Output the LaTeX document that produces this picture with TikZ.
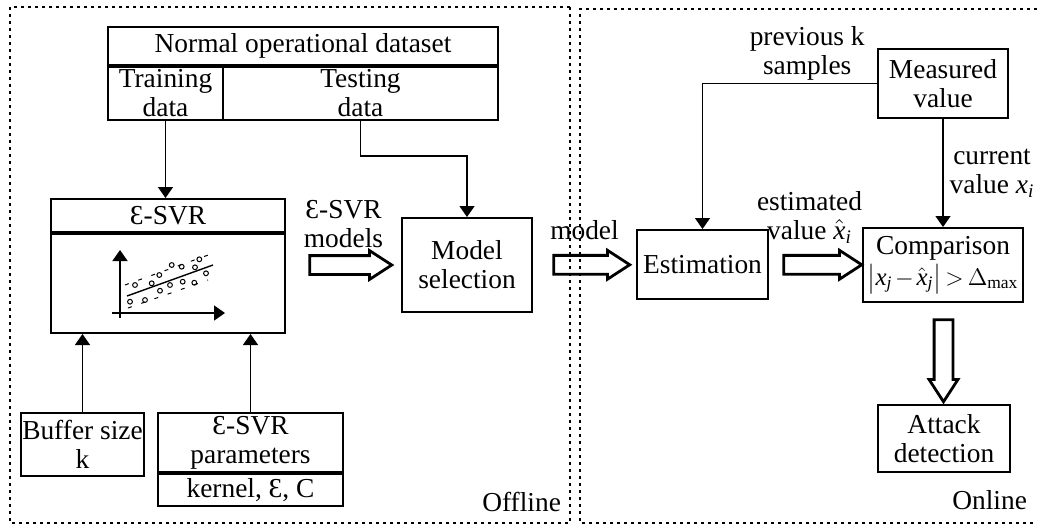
\documentclass[tikz,border=0pt]{standalone}
\usepackage{amsmath}
\usepackage{fontspec}
\setmainfont{Liberation Serif}
\usetikzlibrary{arrows.meta,positioning,calc,shapes.arrows}
\newcommand{\xv}{\textit{x}}
\newcommand{\sub}[1]{_{\textit{#1}}}

\begin{document}
\begin{tikzpicture}[x=0.5pt, y=-0.5pt, >={Triangle[length=5.5pt,width=7.5pt]},
    every node/.style={font=\fontsize{13.7}{14.5}\selectfont},
    box/.style={draw, line width=1pt, inner sep=0pt, align=center},
    link/.style={->, line width=0.7pt},
    hollow/.style={draw, single arrow, line width=1.4pt, inner sep=4pt, minimum width=13pt,
        single arrow head extend=2.5pt, single arrow tip angle=66, minimum height=41pt},
    lbl/.style={align=center, inner sep=1pt},
    frame/.style={line width=0.9pt, dash pattern=on 1.5pt off 2pt}]
    \useasboundingbox (0,0) rectangle (1037,526);

    % offline / online frames
    \draw[frame] (570,7) -- (10,7) -- (10,523) -- (570,523) -- cycle;
    \draw[frame] (1037,9) -- (580,9) -- (580,523) -- (1037,523);
    \node[anchor=east] (offl) at (568,502) {Offline};
    \node[anchor=east] (onl) at (1034,500) {Online};

    % dataset table
    \node[box, minimum width=195pt, minimum height=19pt] (dset) at (303,46) {Normal operational dataset};
    \node[box, minimum width=57.5pt, minimum height=26.5pt, anchor=north west] (train) at (dset.south west) {Training\\data};
    \node[box, minimum width=137.5pt, minimum height=26.5pt, anchor=north east] (test) at (dset.south east) {Testing\\data};

    % e-SVR block
    \node[box, minimum width=117pt, minimum height=16.5pt] (svrt) at (168,215.5) {Ɛ-SVR};
    \node[box, minimum width=117pt, minimum height=49.5pt, anchor=north] (svr) at (svrt.south) {};
    \draw[->, line width=0.8pt] (120,318) -- (120,250);
    \draw[->, line width=0.8pt] (112,313) -- (225,313);
    \draw[line width=0.7pt] (127,296) -- (213,265);
    \draw[line width=0.5pt, dash pattern=on 2pt off 5pt] (125,285) -- (211,254);
    \draw[line width=0.5pt, dash pattern=on 2pt off 5pt] (128,308) -- (208,280);
    \foreach \p in {(135,285),(151.7,283.3),(159.3,275),(171.7,265),(181.7,266.7),(195,267.3),(199.3,259.3),
        (206,273.3),(130,301.7),(145,300),(160,290.7),(170,285),(182.7,281.7),(194.3,282.7)}
        \draw[line width=0.5pt] \p circle (1.2pt);

    \node[box, minimum width=65pt, minimum height=47pt] (msel) at (467,265) {Model\\selection};
    \node[box, minimum width=61.5pt, minimum height=31.5pt] (buf) at (82.5,444.5) {Buffer size\\k};
    \node[box, minimum width=92.5pt, minimum height=29.5pt] (par) at (250.5,442.5) {Ɛ-SVR\\parameters};
    \node[box, minimum width=92.5pt, minimum height=16pt, anchor=north] (kern) at (par.south) {kernel, Ɛ, C};

    % online part
    \node[box, minimum width=65pt, minimum height=34.5pt] (meas) at (943,83.5) {Measured\\value};
    \node[box, minimum width=65.5pt, minimum height=34.5pt] (est) at (702.5,264.5) {Estimation};
    \node[box, minimum width=80pt, minimum height=37pt] (comp) at (943,265)
        {Comparison\\[1pt]{\fontsize{12.5}{14}\selectfont\medmuskip=2mu\thickmuskip=3mu
        $\left|\xv\sub{j}-\hat{\xv}\sub{j}\right|>\Delta_{\mathrm{max}}$}};
    \node[box, minimum width=66pt, minimum height=33.5pt] (att) at (944,438.5) {Attack\\detection};

    % connectors
    \draw[link] (train.south) -- (train.south |- svrt.north);
    \draw[link] (test.south) -- ++(0,35) -| (msel.north);
    \draw[link] (buf.north) -- (buf.north |- svr.south);
    \draw[link] (par.north) -- (par.north |- svr.south);
    \draw[link] (meas.west) -| (est.north) node[pos=0.2, above=0pt, lbl] {previous k\\samples};
    \draw[link] (meas.south) -- (comp.north) node[midway, right=2pt, lbl] {current\\value $\xv\sub{i}$};

    % hollow arrows
    \node[hollow] (a1) at ($(svr.east |- msel)!0.5!(msel.west)$) {};
    \node[lbl, above=2pt of a1] (a1l) {Ɛ-SVR\\models};
    \node[hollow, minimum height=38pt] (a2) at ($(msel.east)!0.5!(est.west)$) {};
    \node[lbl, above=6pt of a2] (a2l) {model};
    \node[hollow, minimum height=39pt] (a3) at ($(est.east)!0.5!(comp.west)$) {};
    \node[lbl, above=4pt of a3, xshift=-3pt] (a3l) {estimated\\value $\hat{\xv}\sub{i}$};
    \node[hollow, shape border rotate=270] (a4) at ($(comp.south)!0.5!(att.north)$) {};
\end{tikzpicture}
\end{document}
